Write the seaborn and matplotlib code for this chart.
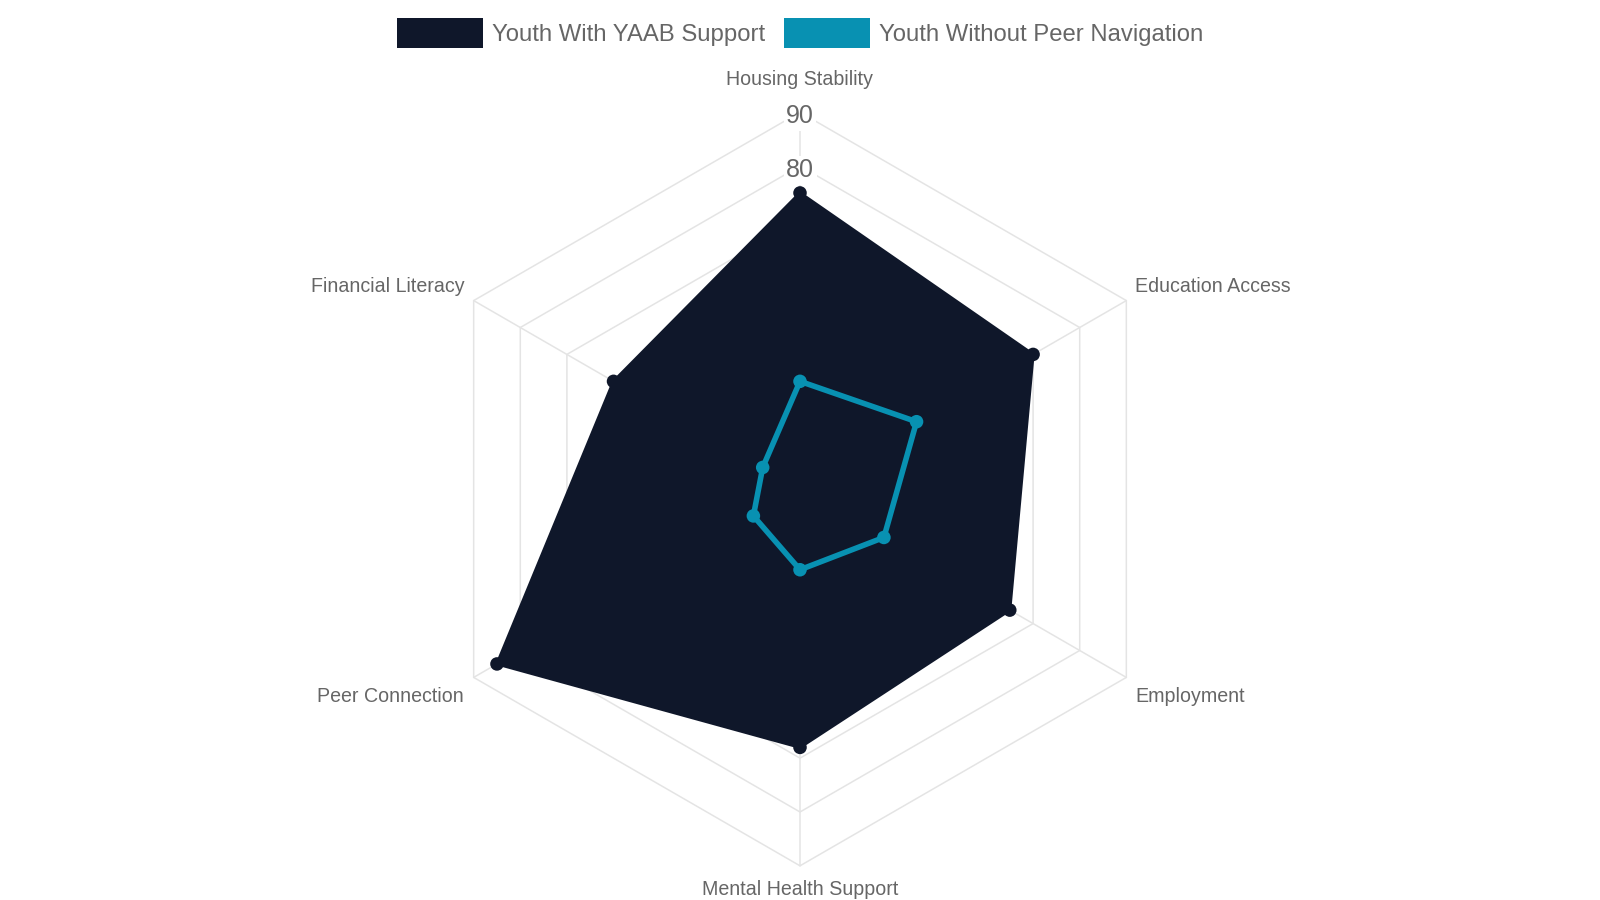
# 1 REQUIRED LIBRARIES
import numpy as np
import pandas as pd
import matplotlib
matplotlib.use("Agg")
import matplotlib.pyplot as plt
from matplotlib.patches import Patch
import seaborn as sns

# 2 Set seaborn theme
sns.set_style("white")
plt.rcParams["font.family"] = ["Liberation Sans", "DejaVu Sans"]

# 3 DATA
categories = ["Housing Stability", "Education Access", "Employment",
              "Mental Health Support", "Peer Connection", "Financial Literacy"]
with_yaab = [75, 70, 65, 68, 85, 60]
without_nav = [40, 45, 38, 35, 30, 28]
series_names = ["Youth With YAAB Support", "Youth Without Peer Navigation"]
scale_ticks = [20, 30, 40, 50, 60, 70, 80, 90]

dark = "#0f172a"
teal = "#0891b2"
grid_col = "#e4e4e4"
text_col = "#666666"

# 4 PROCESS DATA - radial values to x/y on a plain axes
r_min, r_max = scale_ticks[0], scale_ticks[-1]
angles = np.arange(len(categories)) * 2 * np.pi / len(categories)


def to_xy(values):
    r = np.asarray(values, dtype=float) - r_min
    return r * np.sin(angles), r * np.cos(angles)


rows = []
for name, vals in zip(series_names, [with_yaab, without_nav]):
    xs, ys = to_xy(vals)
    for c, v, x, y in zip(categories, vals, xs, ys):
        rows.append({"category": c, "value": v, "series": name, "x": x, "y": y})
df = pd.DataFrame(rows)

# 5 FIGURE
px = 1 / 5.383  # data units per pixel
fig = plt.figure(figsize=(16, 9), dpi=100)
ax = fig.add_axes([0, 0, 1, 1])

# grid rings and spokes
for t in scale_ticks[1:]:
    gx, gy = to_xy([t] * len(categories))
    ax.plot(np.append(gx, gx[0]), np.append(gy, gy[0]), color=grid_col, lw=1.1, zorder=1)
ox, oy = to_xy([r_max] * len(categories))
for sx, sy in zip(ox, oy):
    ax.plot([0, sx], [0, sy], color=grid_col, lw=1.1, zorder=1)

# tick labels along top spoke
for t in scale_ticks[1:]:
    ax.text(0, t - r_min - 4 * px, str(t), ha="center", va="center", fontsize=18,
            color=text_col, zorder=2,
            bbox=dict(boxstyle="square,pad=0.1", fc="white", ec="none"))

# point labels
offsets = [(0, 33, "center"), (9, 14, "left"), (9, -19, "left"),
           (0, -24, "center"), (-10, -19, "right"), (-9, 14, "right")]
for name, sx, sy, (dx, dy, ha) in zip(categories, ox, oy, offsets):
    ax.text(sx + dx * px, sy + dy * px, name, ha=ha, va="center", fontsize=14.1,
            color=text_col, zorder=2)

# series
xd, yd = to_xy(with_yaab)
ax.fill(xd, yd, color=dark, zorder=3, lw=0)
ax.plot(np.append(xd, xd[0]), np.append(yd, yd[0]), color=dark, lw=2.2, zorder=3)
xt, yt = to_xy(without_nav)
ax.plot(np.append(xt, xt[0]), np.append(yt, yt[0]), color=teal, lw=4.0, zorder=4)
sns.scatterplot(data=df, x="x", y="y", hue="series", palette=[dark, teal],
                s=95, linewidth=0, legend=False, ax=ax, zorder=5)
ax.set_xlim(-800 * px, 800 * px)
ax.set_ylim(-(900 - 489) * px, 489 * px)
ax.axis("off")

# legend
handles = [Patch(facecolor=dark, edgecolor="none", label=series_names[0]),
           Patch(facecolor=teal, edgecolor="none", label=series_names[1])]
leg = fig.legend(handles=handles, loc="center", bbox_to_anchor=(0.5, 1 - 33 / 900),
                 ncol=2, frameon=False, fontsize=17.2, handlelength=3.6, handleheight=1.58,
                 handletextpad=0.36, columnspacing=0.8)
for txt in leg.get_texts():
    txt.set_color(text_col)

fig.savefig("out.png", dpi=100)
